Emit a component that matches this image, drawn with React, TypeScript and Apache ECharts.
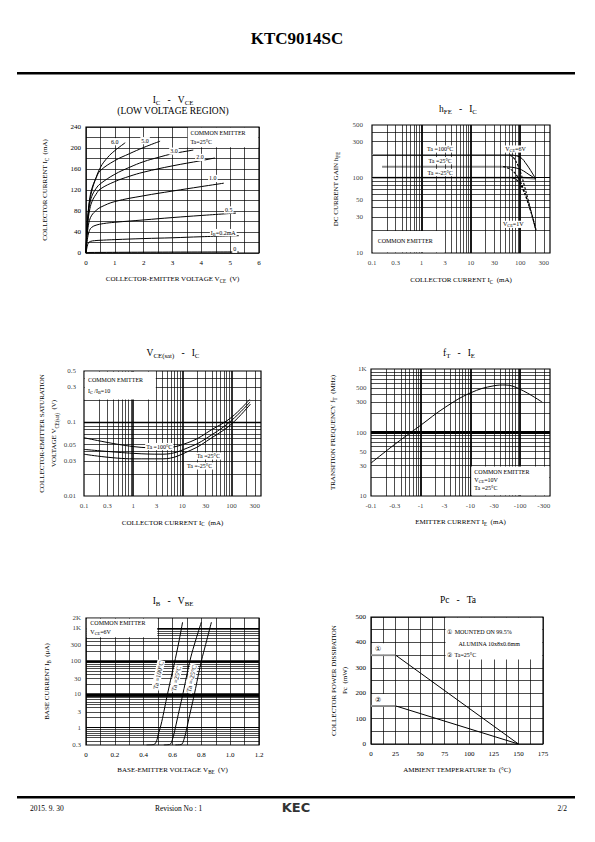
import React, { useEffect, useRef } from "react";
import * as echarts from "echarts";

const SERIF = "'Liberation Serif', 'Times New Roman', 'DejaVu Serif', serif";
const SANS = "'DejaVu Sans', 'Liberation Sans', sans-serif";

// ---------------- 1. IC - VCE (low voltage region) ----------------
const icVceXLabels = [0, 1, 2, 3, 4, 5, 6];
const icVceYLabels = [0, 40, 80, 120, 160, 200, 240];
const icIb0 = [[0, 0], [0.1, 1], [5.3, 2]];
const icIb02 = [[0, 0], [0.04, 12], [0.08, 19], [0.15, 22], [0.3, 23.5], [0.6, 24.5], [1, 25.5], [2, 27.5], [3, 29], [4, 31], [5.3, 33]];
const icIb05 = [[0, 0], [0.03, 18], [0.07, 33], [0.12, 43], [0.2, 49], [0.35, 53], [0.6, 56], [1, 58.5], [2, 63], [3, 67.5], [4, 71.5], [5.2, 76]];
const icIb10 = [[0, 0], [0.03, 28], [0.07, 48], [0.12, 62], [0.2, 72], [0.35, 81], [0.5, 87], [1, 98], [2, 109], [3, 118], [4, 126.5], [4.78, 133]];
const icIb20 = [[0, 0], [0.03, 35], [0.07, 60], [0.12, 80], [0.2, 97], [0.35, 112], [0.5, 122], [1, 136], [1.5, 146], [2, 154], [3, 166], [4, 176], [4.47, 181]];
const icIb30 = [[0, 0], [0.03, 40], [0.07, 68], [0.12, 90], [0.2, 108], [0.35, 123], [0.5, 132], [1, 150], [1.5, 163], [2, 174], [2.5, 182], [3, 189], [3.72, 196]];
const icIb50 = [[0, 0], [0.03, 45], [0.07, 75], [0.12, 100], [0.2, 122], [0.35, 143], [0.5, 157], [1, 176], [1.5, 189], [2, 201], [2.57, 213]];
const icIb60 = [[0, 0], [0.03, 45], [0.07, 72], [0.12, 97], [0.2, 118], [0.3, 136], [0.5, 163], [0.75, 182], [1, 195], [1.36, 210]];

// ---------------- 2. hFE - IC ----------------
const hfeXTicks = [0.1, 0.3, 1, 3, 10, 30, 100, 300];
const hfeXText = ["0.1", "0.3", "1", "3", "10", "30", "100", "300"];
const hfeYTicks = [10, 30, 50, 100, 300, 500];
const hfeYText = ["10", "30", "50", "100", "300", "500"];
const hfeFlat100 = [[0.1, 200], [68, 200]];
const hfeFlat25 = [[0.16, 140], [45, 140]];
const hfeFlatM25 = [[0.1, 100], [120, 100], [205, 97]];
const hfe6V100 = [[68, 200], [90, 192], [110, 178], [125, 160], [150, 135], [175, 115], [205, 97]];
const hfe6V25 = [[45, 140], [70, 137], [95, 131], [116, 123], [150, 110], [205, 97]];
const hfe1V100 = [[62, 200], [75, 180], [90, 145], [105, 110], [120, 80], [140, 55], [165, 36], [190, 25], [205, 20]];
const hfe1V25 = [[45, 140], [60, 132], [75, 118], [95, 95], [115, 72], [135, 54], [160, 38], [185, 27], [200, 22]];
const hfe1VM25 = [[70, 100], [85, 93], [100, 82], [115, 68], [135, 52], [160, 37], [185, 27], [210, 20]];

// ---------------- 3. VCE(sat) - IC ----------------
const vsatXTicks = [0.1, 0.3, 1, 3, 10, 30, 100, 300];
const vsatXText = ["0.1", "0.3", "1", "3", "10", "30", "100", "300"];
const vsatYTicks = [0.01, 0.03, 0.05, 0.1, 0.3, 0.5];
const vsatYText = ["0.01", "0.03", "0.05", "0.1", "0.3", "0.5"];
const vsat100 = [[0.1, 0.062], [1, 0.047], [4, 0.045], [15, 0.055], [40, 0.08], [100, 0.117], [235, 0.205]];
const vsat25 = [[0.1, 0.043], [1, 0.038], [4, 0.037], [15, 0.047], [40, 0.068], [100, 0.106], [240, 0.19]];
const vsatM25 = [[0.1, 0.037], [1, 0.032], [4, 0.032], [15, 0.042], [40, 0.062], [100, 0.095], [245, 0.178]];

// ---------------- 4. fT - IE ----------------
const ftXTicks = [0.1, 0.3, 1, 3, 10, 30, 100, 300];
const ftXText = ["-0.1", "-0.3", "-1", "-3", "-10", "-30", "-100", "-300"];
const ftYTicks = [10, 30, 50, 100, 300, 500, 1000];
const ftYText = ["10", "30", "50", "100", "300", "500", "1K"];
const ftCurve = [[0.1, 33], [0.3, 65], [1, 130], [3, 245], [10, 420], [30, 545], [50, 560], [100, 480], [280, 300]];

// ---------------- 5. IB - VBE ----------------
const ibXLabels = [0, 0.2, 0.4, 0.6, 0.8, 1.0, 1.2];
const ibYTicks = [0.3, 1, 3, 10, 30, 100, 300, 1000, 2000];
const ibYText = ["0.3", "1", "3", "10", "30", "100", "300", "1K", "2K"];
const ib100 = [[0.42, 0.3], [0.47, 0.31], [0.49, 0.4], [0.5, 0.6], [0.52, 1.2], [0.54, 3], [0.56, 8], [0.58, 20], [0.6, 50], [0.62, 120], [0.645, 400], [0.67, 1500]];
const ib25 = [[0.54, 0.3], [0.58, 0.31], [0.6, 0.45], [0.62, 1], [0.64, 2.5], [0.66, 6], [0.68, 15], [0.7, 40], [0.72, 100], [0.75, 300], [0.8, 1500]];
const ibM25 = [[0.62, 0.3], [0.66, 0.31], [0.68, 0.45], [0.7, 1], [0.72, 2.5], [0.74, 6], [0.76, 15], [0.78, 40], [0.8, 100], [0.83, 320], [0.87, 1500]];

// ---------------- 6. Pc - Ta ----------------
const pcXLabels = [0, 25, 50, 75, 100, 125, 150, 175];
const pcYLabels = [0, 100, 200, 300, 400, 500];
const pcFlat1 = [[0, 350], [25, 350]];
const pcFlat2 = [[0, 150], [25, 150]];
const pcLine1 = [[25, 350], [150, 0]];
const pcLine2 = [[25, 150], [150, 0]];

// ---------------- layout ----------------
const GRIDS = [
  { left: 86, top: 127, width: 173, height: 126 },
  { left: 372, top: 125, width: 178, height: 128 },
  { left: 84, top: 371, width: 177, height: 125 },
  { left: 371, top: 369, width: 179, height: 127 },
  { left: 86, top: 618, width: 173, height: 127 },
  { left: 371, top: 617, width: 172, height: 127 },
];

const subRich = (size: number) => ({
  s: { fontSize: size * 0.72, fontFamily: SERIF, color: "#000", lineHeight: size * 0.72, verticalAlign: "bottom" },
});
const gRich = (size: number) => ({
  s: { fontSize: size * 0.72, fontFamily: SERIF, fill: "#000", lineHeight: size * 0.72, verticalAlign: "bottom" },
});

const nameStyle = (lh = 9) => ({ fontSize: 7, fontFamily: SERIF, color: "#000", lineHeight: lh, rich: subRich(7) });

function valueAxis(gi: number, min: number, max: number, interval: number, labels: number[], fmt: ((v: number) => string) | null, margin: number, extra: any) {
  return {
    type: "value", gridIndex: gi, min, max, interval,
    axisLine: { show: false }, axisTick: { show: false },
    splitLine: { show: true, lineStyle: { color: "#000", width: 0.7 } },
    axisLabel: {
      fontSize: 7, fontFamily: SERIF, color: "#000", margin,
      formatter: (v: number) => {
        const hit = labels.find((l) => Math.abs(l - v) < 1e-6);
        return hit === undefined ? "" : fmt ? fmt(hit) : String(hit);
      },
    },
    ...extra,
  };
}
function logAxis(gi: number, min: number, max: number, extra: any) {
  return {
    type: "log", logBase: 10, gridIndex: gi, min, max,
    axisLine: { show: false }, axisTick: { show: false }, axisLabel: { show: false }, splitLine: { show: false },
    ...extra,
  };
}
function logLines(min: number, max: number) {
  const out: number[] = [];
  for (let e = -3; e <= 4; e++) {
    for (let k = 1; k <= 9; k++) {
      const v = parseFloat((k * Math.pow(10, e)).toPrecision(3));
      if (v > min * 1.0001 && v < max * 0.9999) out.push(v);
    }
  }
  return out;
}
const isDecade = (v: number) => Math.abs(Math.log10(v) - Math.round(Math.log10(v))) < 1e-6;

function gridLineSeries(gi: number, xs: number[], ys: number[], wx: (v: number) => number, wy: (v: number) => number) {
  return {
    type: "line", xAxisIndex: gi, yAxisIndex: gi, data: [], silent: true, z: 1,
    markLine: {
      silent: true, symbol: ["none", "none"], label: { show: false }, animation: false,
      lineStyle: { color: "#000", width: 0.7, type: "solid" },
      emphasis: { disabled: true },
      data: [
        ...xs.map((v) => ({ xAxis: v, lineStyle: { color: "#000", type: "solid", width: wx(v) } })),
        ...ys.map((v) => ({ yAxis: v, lineStyle: { color: "#000", type: "solid", width: wy(v) } })),
      ],
    },
  };
}
function labelSeries(gi: number, pts: number[][], texts: string[], position: string, distance: number) {
  return {
    type: "scatter", xAxisIndex: gi, yAxisIndex: gi, silent: true, clip: false,
    symbol: "circle", symbolSize: 0.1, itemStyle: { color: "rgba(0,0,0,0)" }, z: 6,
    data: pts.map((p, i) => ({ value: p, name: texts[i] })),
    label: { show: true, position, distance, formatter: "{b}", fontSize: 7, fontFamily: SERIF, color: "#000" },
  };
}
function curve(gi: number, data: number[][], opt: any = {}) {
  return {
    type: "line", xAxisIndex: gi, yAxisIndex: gi, data, showSymbol: false, symbol: "none",
    smooth: opt.smooth === undefined ? 0.4 : opt.smooth, silent: true, z: 3,
    lineStyle: { color: opt.color || "#000", width: opt.width || 1, type: opt.type || "solid" },
  };
}

function buildOption() {
  const xName = (name: string, gap: number) => ({ name, nameLocation: "middle", nameGap: gap, nameTextStyle: nameStyle() });
  const yName = (name: string, gap: number, lh = 9) => ({ name, nameLocation: "middle", nameRotate: 90, nameGap: gap, nameTextStyle: nameStyle(lh) });

  const xAxis = [
    valueAxis(0, 0, 6, 0.5, icVceXLabels, null, 6, xName("COLLECTOR-EMITTER VOLTAGE V{s|CE}  (V)", 21.5)),
    logAxis(1, 0.1, 400, xName("COLLECTOR CURRENT I{s|C}  (mA)", 22.5)),
    logAxis(2, 0.1, 400, xName("COLLECTOR CURRENT I{s|C}  (mA)", 22)),
    logAxis(3, 0.1, 400, xName("EMITTER CURRENT I{s|E}  (mA)", 21.5)),
    valueAxis(4, 0, 1.2, 0.1, ibXLabels, (v) => (v === 0 ? "0" : v.toFixed(1)), 6, xName("BASE-EMITTER VOLTAGE V{s|BE}  (V)", 20.5)),
    valueAxis(5, 0, 175, 12.5, pcXLabels, null, 6, xName("AMBIENT TEMPERATURE Ta  (°C)", 21.5)),
  ];
  const yAxis = [
    valueAxis(0, 0, 240, 20, icVceYLabels, null, 5, yName("COLLECTOR CURRENT I{s|C}  (mA)", 36.5)),
    logAxis(1, 10, 500, yName("DC CURRENT GAIN h{s|FE}", 31.5)),
    logAxis(2, 0.01, 0.5, yName("COLLECTOR-EMITTER SATURATION\nVOLTAGE V{s|CE(sat)}  (V)", 24, 12)),
    logAxis(3, 10, 1000, yName("TRANSITION FREQUENCY f{s|T}  (MHz)", 33.5)),
    logAxis(4, 0.3, 2000, yName("BASE CURRENT I{s|B}  (μA)", 34.5)),
    valueAxis(5, 0, 500, 50, pcYLabels, null, 5, yName("COLLECTOR POWER DISSIPATION\nPc  (mW)", 21, 11)),
  ];

  const xLog = logLines(0.1, 400);
  const series: any[] = [
    gridLineSeries(1, xLog, logLines(10, 500), (v) => (isDecade(v) ? 1.8 : 0.7), (v) => (v === 100 ? 1.1 : 0.7)),
    gridLineSeries(2, xLog, logLines(0.01, 0.5), (v) => (isDecade(v) ? 1.6 : 0.7), (v) => (isDecade(v) ? 1.3 : 0.7)),
    gridLineSeries(3, xLog, logLines(10, 1000), (v) => (isDecade(v) ? 1.8 : 0.7), (v) => (v === 100 ? 2.8 : 0.7)),
    gridLineSeries(4, [], logLines(0.3, 2000), () => 0.7, (v) => (v === 10 ? 3.5 : v === 100 ? 2.5 : isDecade(v) ? 1.2 : 0.7)),

    labelSeries(1, hfeXTicks.map((v) => [v, 10]), hfeXText, "bottom", 6),
    labelSeries(1, hfeYTicks.map((v) => [0.1, v]), hfeYText, "left", 9),
    labelSeries(2, vsatXTicks.map((v) => [v, 0.01]), vsatXText, "bottom", 6),
    labelSeries(2, vsatYTicks.map((v) => [0.1, v]), vsatYText, "left", 8),
    labelSeries(3, ftXTicks.map((v) => [v, 10]), ftXText, "bottom", 6),
    labelSeries(3, ftYTicks.map((v) => [0.1, v]), ftYText, "left", 4.5),
    labelSeries(4, ibYTicks.map((v) => [0, v]), ibYText, "left", 5),

    curve(0, icIb0), curve(0, icIb02), curve(0, icIb05), curve(0, icIb10),
    curve(0, icIb20), curve(0, icIb30), curve(0, icIb50), curve(0, icIb60),

    curve(1, hfeFlat100, { color: "#8c8c8c", width: 2, smooth: false }),
    curve(1, hfeFlat25, { color: "#8c8c8c", width: 2, smooth: false }),
    curve(1, hfeFlatM25, { color: "#8c8c8c", width: 2, smooth: false }),
    curve(1, hfe6V100), curve(1, hfe6V25),
    curve(1, hfe1V100, { type: [2.5, 1.5], width: 1.1 }),
    curve(1, hfe1V25, { type: [2.5, 1.5], width: 1.1 }),
    curve(1, hfe1VM25, { type: [2.5, 1.5], width: 1.1 }),

    curve(2, vsat100), curve(2, vsat25), curve(2, vsatM25),

    curve(3, ftCurve),

    curve(4, ib100), curve(4, ib25), curve(4, ibM25),

    curve(5, pcFlat1, { color: "#8c8c8c", width: 2, smooth: false }),
    curve(5, pcFlat2, { color: "#8c8c8c", width: 2, smooth: false }),
    curve(5, pcLine1, { smooth: false }),
    curve(5, pcLine2, { smooth: false }),
  ];

  return {
    animation: false,
    backgroundColor: "#fff",
    grid: GRIDS.map((g) => ({ ...g, show: true, borderColor: "#000", borderWidth: 1.2, backgroundColor: "transparent" })),
    xAxis,
    yAxis,
    series,
  };
}

function buildGraphics(chart: any) {
  const els: any[] = [];
  const P = (gi: number, x: number, y: number) => chart.convertToPixel({ gridIndex: gi }, [x, y]) as number[];
  const box = (gi: number, x0: number, y0: number, x1: number, y1: number) => {
    const a = P(gi, x0, y1);
    const b = P(gi, x1, y0);
    els.push({
      type: "rect", z: 100,
      shape: { x: a[0] + 0.8, y: a[1] + 0.8, width: b[0] - a[0] - 1.6, height: b[1] - a[1] - 1.6 },
      style: { fill: "#fff" },
    });
  };
  const ptext = (x: number, y: number, text: string, o: any = {}) => {
    const size = o.size || 6;
    els.push({
      type: "text", x, y, rotation: o.rot || 0, z: 110,
      style: {
        text, fontSize: size, fontFamily: o.family || SERIF, fontWeight: o.weight || "normal",
        fill: o.fill || "#000", align: o.align || "left", verticalAlign: "middle",
        lineHeight: size * 1.2, rich: gRich(size),
        backgroundColor: o.bg ? "#fff" : "transparent", padding: o.bg ? [0, 1, 0, 1] : 0,
      },
    });
  };
  const dtext = (gi: number, x: number, y: number, text: string, o: any = {}) => {
    const p = P(gi, x, y);
    ptext(p[0], p[1], text, o);
  };

  // header / footer
  ptext(297, 38, "KTC9014SC", { size: 17, weight: "bold", align: "center" });
  els.push({ type: "rect", z: 100, shape: { x: 17, y: 72, width: 558, height: 2.5 }, style: { fill: "#000" } });
  els.push({ type: "rect", z: 100, shape: { x: 17, y: 796, width: 558, height: 2.5 }, style: { fill: "#000" } });
  ptext(30, 808, "2015. 9. 30", { size: 7.5 });
  ptext(155, 808, "Revision No : 1", { size: 7.5 });
  ptext(296, 807, "KEC", { size: 13, weight: "bold", family: SANS, align: "center", fill: "#333" });
  ptext(567, 808, "2/2", { size: 7.5, align: "right" });

  // titles
  const T = 9.5;
  ptext(173, 100, "I{s|C}   -   V{s|CE}", { size: T, align: "center" });
  ptext(173, 111, "(LOW VOLTAGE REGION)", { size: T, align: "center" });
  ptext(458, 109, "h{s|FE}   -   I{s|C}", { size: T, align: "center" });
  ptext(173, 353, "V{s|CE(sat)}   -   I{s|C}", { size: T, align: "center" });
  ptext(459, 353, "f{s|T}   -   I{s|E}", { size: T, align: "center" });
  ptext(173, 601, "I{s|B}   -   V{s|BE}", { size: T, align: "center" });
  ptext(458, 600, "Pc   -   Ta", { size: T, align: "center" });

  // chart 1 annotations
  box(0, 3.5, 200, 6, 240);
  dtext(0, 3.62, 229, "COMMON EMITTER");
  dtext(0, 3.62, 212, "Ta=25°C");
  const c1 = { align: "center", bg: true };
  dtext(0, 1.0, 212, "6.0", c1);
  dtext(0, 2.05, 214, "5.0", c1);
  dtext(0, 3.05, 194, "3.0", c1);
  dtext(0, 3.95, 182, "2.0", c1);
  dtext(0, 4.4, 142, "1.0", c1);
  dtext(0, 4.95, 82, "0.5", c1);
  dtext(0, 4.76, 39, "I{s|B}=0.2mA", c1);
  dtext(0, 5.16, 7, "0", c1);

  // chart 2 annotations
  box(1, 0.1, 10, 3, 20);
  dtext(1, 0.13, 14.5, "COMMON EMITTER");
  dtext(1, 2.4, 240, "Ta =100°C", c1);
  dtext(1, 2.4, 168, "Ta =25°C", c1);
  dtext(1, 2.4, 117, "Ta =-25°C", c1);
  dtext(1, 80, 240, "V{s|CE}=6V", c1);
  dtext(1, 72, 24, "V{s|CE}=1V", c1);

  // chart 3 annotations
  box(2, 0.1, 0.2, 3, 0.5);
  dtext(2, 0.12, 0.38, "COMMON EMITTER");
  dtext(2, 0.12, 0.265, "I{s|C} /I{s|B}=10");
  dtext(2, 3.4, 0.047, "Ta =100°C", c1);
  dtext(2, 34, 0.035, "Ta =25°C", c1);
  dtext(2, 22.5, 0.0256, "Ta =-25°C", c1);

  // chart 4 annotations
  box(3, 10, 10, 400, 30);
  dtext(3, 12, 24, "COMMON EMITTER");
  dtext(3, 12, 17.9, "V{s|CE}=10V");
  dtext(3, 12, 13.2, "Ta =25°C");

  // chart 5 annotations
  box(4, 0, 500, 0.5, 2000);
  dtext(4, 0.03, 1400, "COMMON EMITTER");
  dtext(4, 0.03, 770, "V{s|CE}=6V");
  const rot = { align: "center", bg: true, rot: 1.35, size: 6.5 };
  dtext(4, 0.5, 38, "Ta =100°C", rot);
  dtext(4, 0.625, 30, "Ta =25°C", rot);
  dtext(4, 0.73, 30, "Ta =-25°C", rot);

  // chart 6 annotations
  box(5, 75, 330, 175, 500);
  box(5, 0, 350, 25, 400);
  box(5, 0, 150, 25, 200);
  dtext(5, 77, 440, "①  MOUNTED ON 99.5%");
  dtext(5, 89, 392, "ALUMINA 10x8x0.6mm");
  dtext(5, 77, 350, "②  Ta=25°C");
  dtext(5, 7, 373, "①", { align: "center", size: 7 });
  dtext(5, 7, 173, "②", { align: "center", size: 7 });

  return els;
}

export default function App() {
  const ref = useRef<HTMLDivElement>(null);
  useEffect(() => {
    if (!ref.current) return;
    const chart = echarts.init(ref.current, null, { renderer: "svg", width: 595, height: 842 });
    chart.setOption(buildOption() as any);
    chart.setOption({ graphic: { elements: buildGraphics(chart) } } as any);
    return () => chart.dispose();
  }, []);
  return (
    <div
      ref={ref}
      style={{ position: "absolute", left: 0, top: 0, width: 595, height: 842, background: "#fff" }}
    />
  );
}
